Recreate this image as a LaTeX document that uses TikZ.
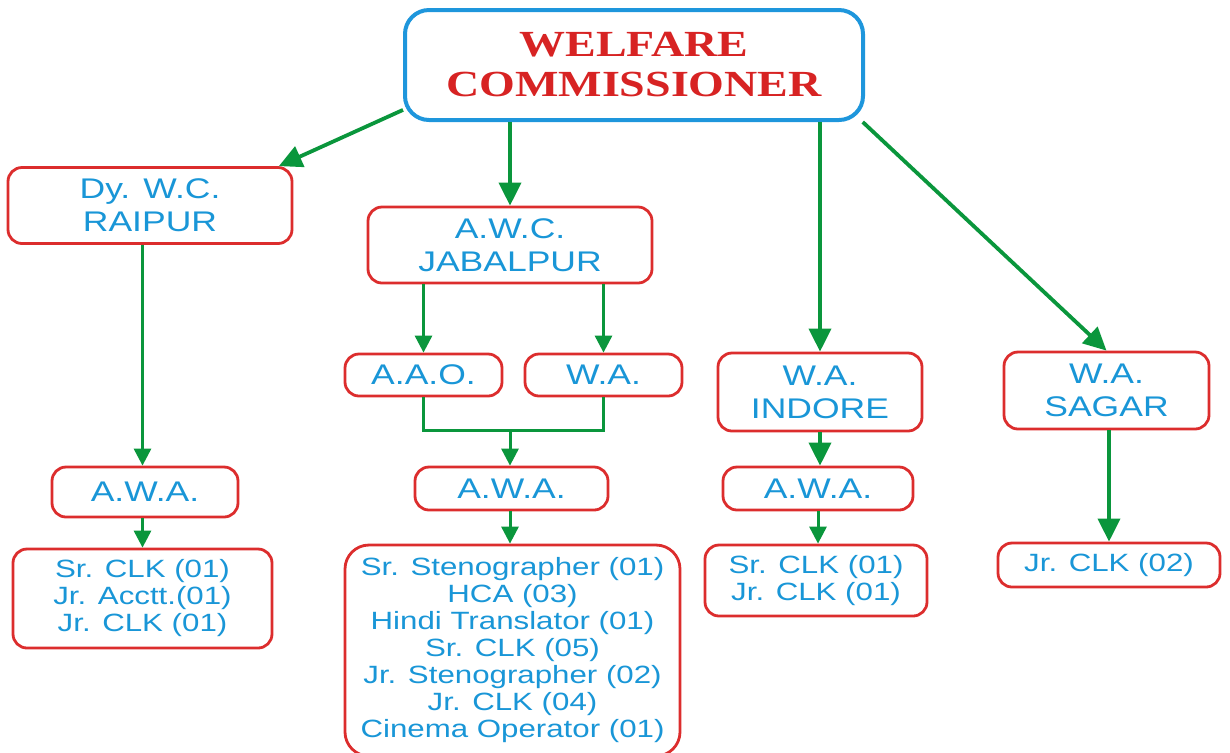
\documentclass[tikz,border=0pt]{standalone}
\usepackage{fontspec}
\newfontfamily\boxfont[FakeStretch=1.25]{Liberation Sans}
\newfontfamily\titlefont[FakeStretch=1.25]{Liberation Serif}
\usetikzlibrary{arrows.meta}
\definecolor{boxred}{RGB}{220,45,45}
\definecolor{txtblue}{RGB}{25,150,215}
\definecolor{wcblue}{RGB}{30,150,220}
\definecolor{titlered}{RGB}{215,35,35}
\definecolor{arrgreen}{RGB}{10,150,60}
\tikzset{
    box/.style={draw=boxred, line width=1.4pt, rounded corners=7pt, text=txtblue, align=center, inner sep=0pt},
    upper/.style={box, font=\boxfont\fontsize{14.2}{16.5}\selectfont},
    lower/.style={box, font=\boxfont\fontsize{12.5}{13.5}\selectfont},
    link/.style={draw=arrgreen, line width=1.5pt},
    arr/.style={link, -{Triangle[length=8.5pt,width=8.5pt]}},
    bigarr/.style={link, line width=1.9pt, -{Triangle[length=11.5pt,width=11pt]}}
}
\begin{document}
\begin{tikzpicture}[x=0.5pt,y=-0.5pt]

		\useasboundingbox (0,0) rectangle (1230,752);
		\clip (0,0) rectangle (1230,752);

		% Welfare Commissioner
		\node [draw=wcblue, line width=2pt, rounded corners=12pt, minimum width=229pt, minimum height=55pt, align=center, text=titlered, font=\titlefont\bfseries\fontsize{18.4}{20}\selectfont] (wc) at (634,65) {WELFARE\\COMMISSIONER};

		% Raipur
		\node [upper, minimum width=142pt, minimum height=38pt] (raipur) at (150,205.5) {Dy. W.C.\\RAIPUR};
		\node [upper, minimum width=93pt, minimum height=25pt] (awa1) at (145,492) {A.W.A.};
		\node [lower, minimum width=129.5pt, minimum height=49.5pt] (clk1) at (142.5,598.5) {Sr. CLK (01)\\Jr. Acctt.(01)\\Jr. CLK (01)};
		\draw [bigarr] (wc.191) -- (raipur.17);
		\draw [arr] (raipur.south -| clk1.north) -- (awa1.north -| clk1.north);
		\draw [arr] (awa1.south -| clk1.north) -- (clk1.north);

		% Jabalpur
		\node [upper, minimum width=142pt, minimum height=38pt] (jab) at (510,245) {A.W.C.\\JABALPUR};
		\node [upper, minimum width=78.5pt, minimum height=21pt] (aao) at (423.5,375) {A.A.O.};
		\node [upper, minimum width=78.5pt, minimum height=21pt] (wa) at (603.5,375) {W.A.};
		\node [upper, minimum width=96.5pt, minimum height=21.5pt] (awa2) at (511.5,488.5) {A.W.A.};
		\node [lower, rounded corners=12pt, minimum width=167.5pt, minimum height=105.5pt] (staff) at (512.5,650.5) {Sr. Stenographer (01)\\HCA (03)\\Hindi Translator (01)\\Sr. CLK (05)\\Jr. Stenographer (02)\\Jr. CLK (04)\\Cinema Operator (01)};
		\coordinate (join) at (510,430);
		\draw [bigarr] (wc.south -| jab.north) -- (jab.north);
		\draw [arr] (jab.south -| aao.north) -- (aao.north);
		\draw [arr] (jab.south -| wa.north) -- (wa.north);
		\draw [link] (aao.south) |- (join) -| (wa.south);
		\draw [arr] (join) -- (join |- awa2.north);
		\draw [arr] (awa2.south -| join) -- (staff.north -| join);

		% Indore
		\node [upper, minimum width=102pt, minimum height=39pt] (indore) at (820,392) {W.A.\\INDORE};
		\node [upper, minimum width=95pt, minimum height=21.5pt] (awa3) at (818,488.5) {A.W.A.};
		\node [lower, minimum width=111pt, minimum height=35.5pt] (clk3) at (816,580.5) {Sr. CLK (01)\\Jr. CLK (01)};
		\draw [bigarr] (wc.south -| indore.north) -- (indore.north);
		\draw [bigarr] (indore.south) -- (indore.south |- awa3.north);
		\draw [arr] (awa3.south) -- (awa3.south |- clk3.north);

		% Sagar
		\node [upper, minimum width=102.5pt, minimum height=38.5pt] (sagar) at (1106.5,390.5) {W.A.\\SAGAR};
		\node [lower, minimum width=111pt, minimum height=22pt] (clk4) at (1109,565) {Jr. CLK (02)};
		\draw [bigarr] (wc.-14) -- (sagar.north);
		\draw [bigarr] (sagar.south -| clk4.north) -- (clk4.north);

	\end{tikzpicture}
\end{document}
